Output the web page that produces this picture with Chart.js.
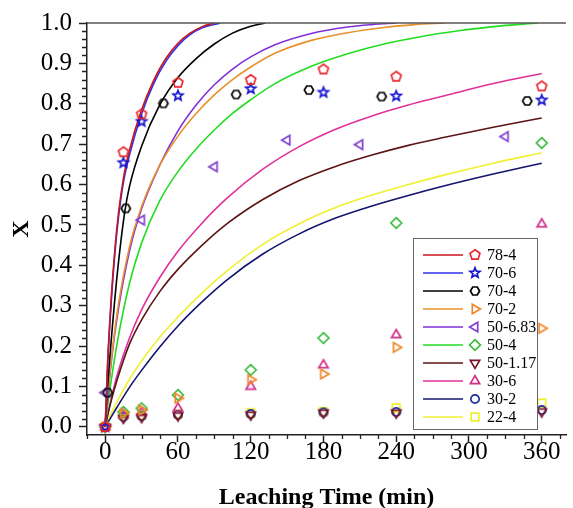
<!DOCTYPE html>
<html>
<head>
<meta charset="utf-8">
<script src="https://cdn.jsdelivr.net/npm/chart.js@4.4.1/dist/chart.umd.min.js"></script>
<style>
  html, body { margin: 0; padding: 0; background: #fff; overflow: hidden; }
  #wrap { width: 573px; height: 508px; }
</style>
</head>
<body>
<div id="wrap"><canvas id="c" width="573" height="508"></canvas></div>
<script>
// Series labels (legend order)
const seriesNames = ['78-4', '70-6', '70-4', '70-2', '50-6.83', '50-4', '50-1.17', '30-6', '30-2', '22-4'];

// Axis ticks
const xTicks = [0, 60, 120, 180, 240, 300, 360];
const yTicks = [0, 0.1, 0.2, 0.3, 0.4, 0.5, 0.6, 0.7, 0.8, 0.9, 1.0];

// Experimental points: leaching time (min) and conversion X
const timeStd = [0, 15, 30, 60, 120, 180, 240, 360];
const time70_4 = [2, 17, 48, 108, 168, 228, 348];
const time50_683 = [0, 30, 90, 150, 210, 330];

const exp78_4 = [0, 0.680, 0.774, 0.852, 0.859, 0.885, 0.867, 0.843];
const exp70_6 = [0, 0.654, 0.756, 0.820, 0.837, 0.828, 0.819, 0.809];
const exp70_4 = [0.085, 0.541, 0.801, 0.823, 0.834, 0.818, 0.807];
const exp70_2 = [0, 0.034, 0.042, 0.071, 0.117, 0.131, 0.197, 0.244];
const exp50_683 = [0.085, 0.512, 0.644, 0.710, 0.699, 0.719];
const exp50_4 = [0, 0.037, 0.046, 0.079, 0.141, 0.220, 0.505, 0.703];
const exp50_117 = [0, 0.022, 0.024, 0.028, 0.030, 0.035, 0.035, 0.038];
const exp30_6 = [0, 0.030, 0.035, 0.046, 0.100, 0.153, 0.228, 0.502];
const exp30_2 = [0, 0.025, 0.027, 0.030, 0.032, 0.036, 0.037, 0.042];
const exp22_4 = [0, 0.030, 0.030, 0.032, 0.035, 0.038, 0.047, 0.059];

// Model curves: [time, X]
const fit78_4 = [[0, 0], [2, 0.16], [5, 0.32], [8, 0.44], [11, 0.53], [15, 0.615], [20, 0.685], [30, 0.785], [40, 0.858], [50, 0.912], [60, 0.95], [70, 0.975], [80, 0.991], [90, 1.0]];
const fit70_6 = [[0, 0], [2, 0.15], [5, 0.31], [8, 0.43], [11, 0.52], [15, 0.605], [20, 0.673], [30, 0.775], [40, 0.85], [50, 0.905], [60, 0.944], [70, 0.971], [80, 0.988], [95, 1.0]];
const fit70_4 = [[0, 0], [2, 0.10], [5, 0.215], [10, 0.38], [16, 0.53], [20, 0.595], [30, 0.695], [45, 0.797], [60, 0.865], [75, 0.912], [90, 0.948], [105, 0.975], [120, 0.992], [132, 1.0]];
const fit70_2 = [[0, 0], [2, 0.075], [5, 0.165], [10, 0.285], [20, 0.445], [30, 0.545], [45, 0.648], [60, 0.72], [75, 0.776], [90, 0.822], [105, 0.86], [120, 0.891], [140, 0.925], [170, 0.957], [200, 0.976], [230, 0.989], [255, 0.996], [280, 1.0]];
const fit50_683 = [[0, 0], [2, 0.07], [5, 0.16], [10, 0.275], [20, 0.435], [30, 0.54], [45, 0.648], [60, 0.733], [75, 0.797], [90, 0.847], [105, 0.886], [120, 0.916], [140, 0.946], [170, 0.974], [200, 0.99], [220, 0.996], [240, 1.0]];
const fit50_4 = [[0, 0], [2, 0.05], [5, 0.115], [10, 0.21], [20, 0.355], [30, 0.455], [45, 0.56], [60, 0.632], [75, 0.688], [90, 0.735], [105, 0.776], [120, 0.81], [140, 0.85], [170, 0.893], [200, 0.924], [230, 0.948], [260, 0.966], [290, 0.98], [320, 0.991], [357, 1.0]];
const fit50_117 = [[0, 0], [2, 0.028], [5, 0.065], [10, 0.118], [20, 0.205], [30, 0.265], [45, 0.335], [60, 0.39], [80, 0.45], [100, 0.502], [130, 0.563], [160, 0.61], [190, 0.645], [220, 0.673], [250, 0.697], [280, 0.717], [320, 0.742], [360, 0.765]];
const fit30_6 = [[0, 0], [2, 0.03], [5, 0.07], [10, 0.13], [20, 0.22], [30, 0.29], [45, 0.37], [60, 0.435], [80, 0.505], [100, 0.565], [130, 0.638], [160, 0.694], [190, 0.737], [220, 0.77], [250, 0.797], [280, 0.82], [320, 0.85], [360, 0.875]];
const fit30_2 = [[0, 0], [2, 0.01], [5, 0.025], [10, 0.05], [20, 0.098], [30, 0.14], [45, 0.198], [60, 0.25], [80, 0.31], [100, 0.363], [130, 0.428], [160, 0.478], [190, 0.517], [220, 0.547], [250, 0.573], [280, 0.597], [320, 0.626], [360, 0.653]];
const fit22_4 = [[0, 0], [2, 0.014], [5, 0.034], [10, 0.064], [20, 0.118], [30, 0.163], [45, 0.222], [60, 0.272], [80, 0.332], [100, 0.385], [130, 0.452], [160, 0.503], [190, 0.543], [220, 0.574], [250, 0.60], [280, 0.624], [320, 0.653], [360, 0.679]];

const expTimes = [timeStd, timeStd, time70_4, timeStd, time50_683, timeStd, timeStd, timeStd, timeStd, timeStd];
const expValues = [exp78_4, exp70_6, exp70_4, exp70_2, exp50_683, exp50_4, exp50_117, exp30_6, exp30_2, exp22_4];
const fitCurves = [fit78_4, fit70_6, fit70_4, fit70_2, fit50_683, fit50_4, fit50_117, fit30_6, fit30_2, fit22_4];

const lineColors = ['#c8161d', '#3030e8', '#000000', '#e8902a', '#8030d8', '#22dd22', '#5c1414', '#e0309a', '#141470', '#f0f030'];
const markerColors = ['#e8252a', '#1515d0', '#000000', '#f0862a', '#8040d0', '#3cbb3c', '#7a1428', '#d0308a', '#2030a0', '#eeee30'];
const markerShapes = ['pentagon', 'star', 'hexagon', 'triRight', 'triLeft', 'diamond', 'triDown', 'triUp', 'circle', 'square'];

const SERIF = "'Liberation Serif', 'Times New Roman', serif";

// Hollow marker glyphs drawn once into small canvases
function makeMarker(shape, color) {
    const c = document.createElement('canvas');
    c.width = 16; c.height = 16;
    const g = c.getContext('2d');
    g.strokeStyle = color;
    g.lineWidth = 1.7;
    g.translate(8, 8);
    g.beginPath();
    const poly = (n, r, rot) => {
        for (let i = 0; i < n; i++) {
            const a = rot + i * 2 * Math.PI / n;
            if (i) g.lineTo(r * Math.cos(a), r * Math.sin(a));
            else g.moveTo(r * Math.cos(a), r * Math.sin(a));
        }
        g.closePath();
    };
    switch (shape) {
        case 'pentagon': poly(5, 5.2, -Math.PI / 2); break;
        case 'star':
            for (let i = 0; i < 10; i++) {
                const a = -Math.PI / 2 + i * Math.PI / 5;
                const r = i % 2 ? 2.3 : 5.2;
                if (i) g.lineTo(r * Math.cos(a), r * Math.sin(a));
                else g.moveTo(r * Math.cos(a), r * Math.sin(a));
            }
            g.closePath();
            break;
        case 'hexagon': poly(6, 4.6, 0); break;
        case 'triRight': poly(3, 5.4, 0); break;
        case 'triLeft': poly(3, 5.4, Math.PI); break;
        case 'triUp': poly(3, 5.4, -Math.PI / 2); break;
        case 'triDown': poly(3, 5.4, Math.PI / 2); break;
        case 'diamond': poly(4, 5.4, -Math.PI / 2); break;
        case 'circle': g.arc(0, 0, 4.2, 0, 2 * Math.PI); break;
        case 'square': g.rect(-3.8, -3.8, 7.6, 7.6); break;
    }
    g.stroke();
    return c;
}

const markers = markerShapes.map((s, i) => makeMarker(s, markerColors[i]));

const datasets = [];
seriesNames.forEach((name, i) => {
    datasets.push({
        label: name + ' fit',
        data: fitCurves[i].map(([x, y]) => ({ x, y })),
        borderColor: lineColors[i],
        borderWidth: 1.6,
        pointRadius: 0,
        cubicInterpolationMode: 'monotone',
        fill: false,
        order: 2
    });
    datasets.push({
        label: name,
        data: expTimes[i].map((t, j) => ({ x: t, y: expValues[i][j] })),
        showLine: false,
        pointStyle: markers[i],
        pointRadius: 6,
        order: 1
    });
});

// Minor ticks, top frame and the boxed legend
const decorPlugin = {
    id: 'decor',
    afterDraw(chart) {
        const { ctx, chartArea, scales } = chart;
        ctx.save();
        ctx.strokeStyle = '#222';
        ctx.lineWidth = 1.3;
        ctx.beginPath();
        for (let v = 0.02; v < 1.0; v += 0.02) {
            if (Math.abs(v * 10 - Math.round(v * 10)) < 1e-6) continue;
            const y = Math.round(scales.y.getPixelForValue(v)) + 0.5;
            ctx.moveTo(chartArea.left, y);
            ctx.lineTo(chartArea.left - 5, y);
        }
        for (let t = -15; t <= 375; t += 15) {
            if (t % 60 === 0 && t >= 0 && t <= 360) continue;
            const x = Math.round(scales.x.getPixelForValue(t)) + 0.5;
            ctx.moveTo(x, chartArea.bottom);
            ctx.lineTo(x, chartArea.bottom + 4);
        }
        ctx.stroke();

        ctx.strokeStyle = '#555';
        ctx.lineWidth = 1.5;
        ctx.beginPath();
        ctx.moveTo(chartArea.left, chartArea.top);
        ctx.lineTo(chartArea.right, chartArea.top);
        ctx.stroke();

        // legend box
        ctx.fillStyle = '#fff';
        ctx.fillRect(413, 238, 125, 192);
        ctx.strokeStyle = '#666';
        ctx.lineWidth = 1;
        ctx.strokeRect(413.5, 238.5, 124, 191);
        ctx.font = '16px ' + SERIF;
        ctx.textBaseline = 'middle';
        ctx.textAlign = 'left';
        seriesNames.forEach((name, i) => {
            const y = 255 + i * 18;
            ctx.strokeStyle = lineColors[i];
            ctx.lineWidth = 1.6;
            ctx.beginPath();
            ctx.moveTo(423, y);
            ctx.lineTo(463, y);
            ctx.stroke();
            ctx.drawImage(markers[i], 475 - 8, y - 8);
            ctx.fillStyle = '#000';
            ctx.fillText(name, 487, y + 1);
        });
        ctx.restore();
    }
};

new Chart(document.getElementById('c'), {
    type: 'line',
    data: { datasets },
    options: {
        responsive: false,
        animation: false,
        devicePixelRatio: 1,
        events: [],
        layout: { padding: { top: 23, right: 0, left: 0, bottom: 0 } },
        plugins: { legend: { display: false }, tooltip: { enabled: false } },
        scales: {
            x: {
                type: 'linear',
                min: -15,
                max: 380,
                afterBuildTicks: s => { s.ticks = xTicks.map(v => ({ value: v })); },
                afterFit: s => { s.height = 73; },
                ticks: {
                    autoSkip: false,
                    maxRotation: 0,
                    padding: -5,
                    color: '#000',
                    font: { family: SERIF, size: 25 },
                    callback: v => String(v)
                },
                grid: { drawOnChartArea: false, drawTicks: true, tickLength: 7, tickColor: '#222', tickWidth: 1.5 },
                border: { display: true, color: '#222', width: 1.5 },
                title: {
                    display: true,
                    text: 'Leaching Time (min)',
                    color: '#000',
                    font: { family: SERIF, size: 24, weight: 'bold', lineHeight: 1 },
                    padding: { top: 0, bottom: -2 }
                }
            },
            y: {
                type: 'linear',
                min: -0.02,
                max: 1.0,
                afterBuildTicks: s => { s.ticks = yTicks.map(v => ({ value: v })); },
                afterFit: s => { s.width = 87; },
                ticks: {
                    padding: 7,
                    color: '#000',
                    font: { family: SERIF, size: 25 },
                    callback: v => v.toFixed(1)
                },
                grid: { drawOnChartArea: false, drawTicks: true, tickLength: 8, tickColor: '#222', tickWidth: 1.5 },
                border: { display: true, color: '#222', width: 1.5 },
                title: {
                    display: true,
                    text: 'X',
                    color: '#000',
                    font: { family: SERIF, size: 24, weight: 'bold' },
                    padding: { top: 7, bottom: 0 }
                }
            }
        }
    },
    plugins: [decorPlugin]
});
</script>
</body>
</html>
